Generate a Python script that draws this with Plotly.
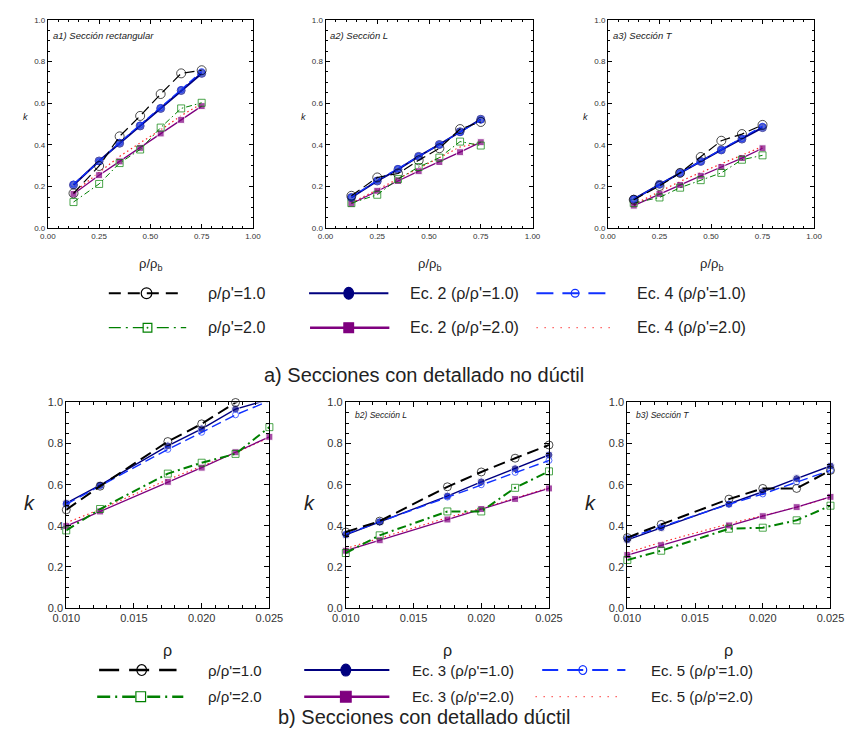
import plotly.graph_objects as go

W, H = 859, 742
FONT = "Liberation Sans, Arial, sans-serif"

# ---------------- data ----------------
x_top = [0.125, 0.25, 0.35, 0.45, 0.55, 0.65, 0.75]
x_bot = [0.010, 0.0125, 0.0175, 0.020, 0.0225, 0.025]

# a1) rectangular (non-ductile)
a1_exp_r1 = [0.168, 0.299, 0.441, 0.539, 0.644, 0.743, 0.758]
a1_exp_r2 = [0.126, 0.213, 0.313, 0.378, 0.483, 0.575, 0.602]
a1_ec2_r1 = [0.208, 0.323, 0.408, 0.491, 0.575, 0.661, 0.743]
a1_ec2_r2 = [0.165, 0.255, 0.321, 0.386, 0.455, 0.520, 0.586]
a1_ec4_r1 = [0.212, 0.320, 0.412, 0.495, 0.578, 0.665, 0.752]
a1_ec4_r2 = [0.172, 0.268, 0.345, 0.410, 0.472, 0.540, 0.598]
# a2) L section
a2_exp_r1 = [0.156, 0.244, 0.263, 0.326, 0.384, 0.476, 0.510]
a2_exp_r2 = [0.121, 0.161, 0.236, 0.294, 0.339, 0.416, 0.397]
a2_ec2_r1 = [0.148, 0.227, 0.283, 0.345, 0.402, 0.463, 0.523]
a2_ec2_r2 = [0.118, 0.180, 0.227, 0.274, 0.318, 0.365, 0.413]
a2_ec4_r1 = [0.150, 0.230, 0.286, 0.345, 0.400, 0.460, 0.520]
a2_ec4_r2 = [0.122, 0.186, 0.240, 0.290, 0.340, 0.390, 0.410]
# a3) T section
a3_exp_r1 = [0.137, 0.203, 0.266, 0.342, 0.420, 0.452, 0.496]
a3_exp_r2 = [0.121, 0.148, 0.195, 0.231, 0.266, 0.329, 0.350]
a3_ec2_r1 = [0.140, 0.211, 0.266, 0.321, 0.376, 0.428, 0.483]
a3_ec2_r2 = [0.109, 0.165, 0.208, 0.252, 0.294, 0.337, 0.384]
a3_ec4_r1 = [0.140, 0.210, 0.265, 0.320, 0.375, 0.430, 0.490]
a3_ec4_r2 = [0.115, 0.175, 0.225, 0.268, 0.310, 0.352, 0.392]
# b1) rectangular (ductile)
b1_exp_r1 = [0.478, 0.593, 0.810, 0.896, 1.000, 1.080]
b1_exp_r2 = [0.378, 0.482, 0.654, 0.707, 0.750, 0.880]
b1_ec3_r1 = [0.510, 0.598, 0.789, 0.872, 0.968, 1.015]
b1_ec3_r2 = [0.399, 0.470, 0.614, 0.683, 0.758, 0.833]
b1_ec5_r1 = [0.505, 0.595, 0.772, 0.855, 0.940, 1.008]
b1_ec5_r2 = [0.415, 0.480, 0.625, 0.690, 0.755, 0.830]
# b2) L section
b2_exp_r1 = [0.370, 0.423, 0.590, 0.662, 0.729, 0.793]
b2_exp_r2 = [0.268, 0.354, 0.470, 0.470, 0.585, 0.665]
b2_ec3_r1 = [0.356, 0.419, 0.545, 0.614, 0.678, 0.745]
b2_ec3_r2 = [0.279, 0.330, 0.431, 0.482, 0.531, 0.582]
b2_ec5_r1 = [0.360, 0.420, 0.540, 0.600, 0.660, 0.718]
b2_ec5_r2 = [0.290, 0.340, 0.440, 0.485, 0.535, 0.585]
# b3) T section
b3_exp_r1 = [0.343, 0.407, 0.530, 0.582, 0.582, 0.670]
b3_exp_r2 = [0.234, 0.279, 0.386, 0.391, 0.427, 0.498]
b3_ec3_r1 = [0.332, 0.391, 0.506, 0.566, 0.630, 0.691]
b3_ec3_r2 = [0.258, 0.306, 0.402, 0.447, 0.491, 0.541]
b3_ec5_r1 = [0.340, 0.395, 0.505, 0.555, 0.614, 0.670]
b3_ec5_r2 = [0.270, 0.320, 0.410, 0.450, 0.490, 0.540]

top_titles = ["a1) Sección rectangular", "a2) Sección L", "a3) Sección T"]
bot_titles = ["", "b2) Sección L", "b3) Sección T"]
top_ticks_x = [0.0, 0.25, 0.5, 0.75, 1.0]
bot_ticks_x = [0.010, 0.015, 0.020, 0.025]
legend_top = ["ρ/ρ'=1.0", "ρ/ρ'=2.0", "Ec. 2 (ρ/ρ'=1.0)", "Ec. 2 (ρ/ρ'=2.0)",
              "Ec. 4 (ρ/ρ'=1.0)", "Ec. 4 (ρ/ρ'=2.0)"]
legend_bot = ["ρ/ρ'=1.0", "ρ/ρ'=2.0", "Ec. 3 (ρ/ρ'=1.0)", "Ec. 3 (ρ/ρ'=2.0)",
              "Ec. 5 (ρ/ρ'=1.0)", "Ec. 5 (ρ/ρ'=2.0)"]
caption_a = "a) Secciones con detallado no dúctil"
caption_b = "b) Secciones con detallado dúctil"

top_panels = [
    dict(exp1=a1_exp_r1, exp2=a1_exp_r2, ec1=a1_ec2_r1, ec2=a1_ec2_r2, eq1=a1_ec4_r1, eq2=a1_ec4_r2),
    dict(exp1=a2_exp_r1, exp2=a2_exp_r2, ec1=a2_ec2_r1, ec2=a2_ec2_r2, eq1=a2_ec4_r1, eq2=a2_ec4_r2),
    dict(exp1=a3_exp_r1, exp2=a3_exp_r2, ec1=a3_ec2_r1, ec2=a3_ec2_r2, eq1=a3_ec4_r1, eq2=a3_ec4_r2),
]
bot_panels = [
    dict(exp1=b1_exp_r1, exp2=b1_exp_r2, ec1=b1_ec3_r1, ec2=b1_ec3_r2, eq1=b1_ec5_r1, eq2=b1_ec5_r2),
    dict(exp1=b2_exp_r1, exp2=b2_exp_r2, ec1=b2_ec3_r1, ec2=b2_ec3_r2, eq1=b2_ec5_r1, eq2=b2_ec5_r2),
    dict(exp1=b3_exp_r1, exp2=b3_exp_r2, ec1=b3_ec3_r1, ec2=b3_ec3_r2, eq1=b3_ec5_r1, eq2=b3_ec5_r2),
]

# ---------------- layout geometry (pixels) ----------------
def X(px):
    return px / W

def Y(py):
    return 1 - py / H

top_x = [(35, 247), (322, 536), (614, 827)]
top_y = (14, 226)
bot_x = [(54, 264), (343, 553), (634, 844)]
bot_y = (403, 612)

NAVY = "#00007f"
PURPLE = "#7f007f"
GREEN = "#008000"
BLUE = "#1030ff"
RED = "#ff2020"

top_style = {
    "eq2": dict(line=dict(color=RED, width=1.2, dash="1.5px,3px"), mode="lines"),
    "ec2": dict(line=dict(color=PURPLE, width=1.3), mode="lines+markers",
                marker=dict(symbol="square", size=7, color=PURPLE)),
    "exp2": dict(line=dict(color=GREEN, width=1, dash="6px,3px,1.5px,3px"), mode="lines+markers",
                 marker=dict(symbol="square-open", size=7, color=GREEN, line=dict(width=1))),
    "ec1": dict(line=dict(color=NAVY, width=2), mode="lines+markers",
                marker=dict(symbol="circle", size=8, color="#1a2fc0", line=dict(color=NAVY, width=1))),
    "eq1": dict(line=dict(color=BLUE, width=1.3, dash="8px,3px"), mode="lines+markers",
                marker=dict(symbol="circle-open", size=6, color=BLUE, line=dict(width=1))),
    "exp1": dict(line=dict(color="black", width=1.2, dash="10px,5px"), mode="lines+markers",
                 marker=dict(symbol="circle-open", size=9, color="black", line=dict(width=1))),
}
bot_style = {
    "eq2": dict(line=dict(color=RED, width=1.1, dash="1.5px,3px"), mode="lines"),
    "ec2": dict(line=dict(color=PURPLE, width=1.3), mode="lines+markers",
                marker=dict(symbol="square", size=7, color=PURPLE)),
    "exp2": dict(line=dict(color=GREEN, width=2, dash="9px,4px,2px,4px"), mode="lines+markers",
                 marker=dict(symbol="square-open", size=7, color=GREEN, line=dict(width=1))),
    "ec1": dict(line=dict(color=NAVY, width=1.4), mode="lines+markers",
                marker=dict(symbol="circle", size=8, color=NAVY)),
    "eq1": dict(line=dict(color=BLUE, width=1.4, dash="10px,5px"), mode="lines+markers",
                marker=dict(symbol="circle-open", size=6, color=BLUE, line=dict(width=1))),
    "exp1": dict(line=dict(color="black", width=2, dash="12px,6px"), mode="lines+markers",
                 marker=dict(symbol="circle-open", size=8, color="black", line=dict(width=1))),
}
order = ["eq2", "ec2", "exp2", "ec1", "eq1", "exp1"]

fig = go.Figure()
layout = dict(width=W, height=H, margin=dict(l=0, r=0, t=0, b=0),
              paper_bgcolor="white", plot_bgcolor="white", showlegend=False,
              font=dict(family=FONT, color="#222"))

def axis_common():
    return dict(showline=True, linecolor="black", linewidth=1, mirror="ticks",
                ticks="inside", tickcolor="black", showgrid=False, zeroline=False,
                fixedrange=True)

annotations = []

def text_at(text, x, y, size, xanchor="center"):
    annotations.append(dict(text=text, x=X(x), y=Y(y), xref="paper", yref="paper",
                            xanchor=xanchor, yanchor="middle", showarrow=False,
                            font=dict(size=size, color="#222")))

idx = 0
for row, (panels, xdom, ydom, xs, style) in enumerate([
        (top_panels, top_x, top_y, x_top, top_style),
        (bot_panels, bot_x, bot_y, x_bot, bot_style)]):
    for c, pdata in enumerate(panels):
        idx += 1
        xa = "x" if idx == 1 else f"x{idx}"
        ya = "y" if idx == 1 else f"y{idx}"
        for key in order:
            st = style[key]
            ys = pdata[key]
            kw = dict(x=xs, y=ys, xaxis=xa, yaxis=ya, mode=st["mode"], line=st["line"],
                      cliponaxis=False, hoverinfo="skip")
            if "marker" in st:
                m = dict(st["marker"])
                m["size"] = [m["size"] if v <= 1.0 else 0 for v in ys]
                kw["marker"] = m
            fig.add_trace(go.Scatter(**kw))
        xkey = "xaxis" if idx == 1 else f"xaxis{idx}"
        ykey = "yaxis" if idx == 1 else f"yaxis{idx}"
        ax = axis_common()
        ay = axis_common()
        ax["domain"] = [X(xdom[c][0]), X(xdom[c][1])]
        ay["domain"] = [Y(ydom[1]), Y(ydom[0])]
        ax["anchor"] = ya
        ay["anchor"] = xa
        if row == 0:
            ax.update(range=[0, 1], tickvals=top_ticks_x, tickformat=".2f", ticklen=4,
                      minor=dict(ticks="inside", ticklen=2, dtick=0.05, tickcolor="black"),
                      tickfont=dict(size=8, color="#333"))
            ay.update(range=[0, 1], dtick=0.2, tickformat=".1f", ticklen=4,
                      minor=dict(ticks="inside", ticklen=2, dtick=0.05, tickcolor="black"),
                      tickfont=dict(size=8, color="#333"))
        else:
            ax.update(range=[0.010, 0.025], tickvals=bot_ticks_x, tickformat=".3f", ticklen=5,
                      minor=dict(ticks="inside", ticklen=3, dtick=0.001, tick0=0.010, tickcolor="black"),
                      tickfont=dict(size=11, color="#333"))
            ay.update(range=[0, 1], dtick=0.2, tickformat=".1f", ticklen=5,
                      minor=dict(ticks="inside", ticklen=3, dtick=0.05, tickcolor="black"),
                      tickfont=dict(size=11, color="#333"))
        layout[xkey] = ax
        layout[ykey] = ay

        x0, x1 = xdom[c]
        cx = (x0 + x1) / 2
        if row == 0:
            text_at("ρ/ρ<sub>b</sub>", cx, 263, 13)
            text_at("<i>k</i>", x0 - 23, 113, 9)
            text_at("<i>" + top_titles[c] + "</i>", x0 + 3, 30, 9.5, "left")
        else:
            text_at("ρ", cx, 655, 16)
            text_at("<i>k</i>", x0 - 38, 505, 20)
            if bot_titles[c]:
                text_at("<i>" + bot_titles[c] + "</i>", x0 + 7, 416, 8.5, "left")

# ---------------- hand-made legends ----------------
shapes = []

def seg(x0, x1, y, color, width, dash="solid"):
    shapes.append(dict(type="line", xref="paper", yref="paper", x0=X(x0), x1=X(x1), y0=Y(y), y1=Y(y),
                       line=dict(color=color, width=width, dash=dash)))

def circ(cx, cy, rx, ry, color, filled, width=1.2):
    shapes.append(dict(type="circle", xref="paper", yref="paper", x0=X(cx - rx), x1=X(cx + rx),
                       y0=Y(cy + ry), y1=Y(cy - ry), line=dict(color=color, width=width),
                       fillcolor=color if filled else "rgba(0,0,0,0)"))

def sq(cx, cy, h, color, filled, width=1.2):
    shapes.append(dict(type="rect", xref="paper", yref="paper", x0=X(cx - h), x1=X(cx + h),
                       y0=Y(cy + h), y1=Y(cy - h), line=dict(color=color, width=width),
                       fillcolor=color if filled else "white"))

# top legend
r1, r2 = 292, 327
seg(98, 176, r1, "black", 2, "12px,7px"); circ(137, r1, 5.5, 5.5, "black", False)
seg(98, 178, r2, GREEN, 1.3, "12px,5px,2px,5px"); sq(138, r2, 4.5, GREEN, False)
sq(138, r2, 0.6, GREEN, True, 0.5)
seg(305, 387, r1, NAVY, 2); circ(346, r1, 5, 6, NAVY, True)
seg(306, 388, r2, PURPLE, 2.5); sq(346, r2, 5, PURPLE, True)
seg(540, 613, r1, BLUE, 2, "17px,9px"); circ(580, r1, 4, 4, BLUE, False)
seg(540, 622, r2, "#ff6060", 1.2, "1.5px,6.5px")
text_at(legend_top[0], 198, r1, 16, "left"); text_at(legend_top[1], 198, r2, 16, "left")
text_at(legend_top[2], 407, r1, 16, "left"); text_at(legend_top[3], 407, r2, 16, "left")
text_at(legend_top[4], 642, r1, 16, "left"); text_at(legend_top[5], 642, r2, 16, "left")

# bottom legend
q1, q2 = 675, 702
seg(88, 168, q1, "black", 2.5, "20px,10px"); circ(132, q1, 5, 5.5, "black", False)
seg(86, 175, q2, GREEN, 2.5, "13px,5px,2px,5px"); sq(131, q2, 5, GREEN, False)
seg(300, 388, q1, NAVY, 2); circ(343, q1, 5, 6, NAVY, True)
seg(300, 388, q2, PURPLE, 2.5); sq(343, q2, 5.5, PURPLE, True)
seg(546, 632, q1, BLUE, 2, "16px,9px"); circ(588, q1, 4, 4.5, BLUE, False)
seg(539, 629, q2, "#ff6060", 1.2, "1.5px,6.5px")
text_at(legend_bot[0], 198, q1, 15, "left"); text_at(legend_bot[1], 198, q2, 15, "left")
text_at(legend_bot[2], 409, q1, 15, "left"); text_at(legend_bot[3], 409, q2, 15, "left")
text_at(legend_bot[4], 656, q1, 15, "left"); text_at(legend_bot[5], 656, q2, 15, "left")

# captions
text_at(caption_a, 424, 375, 20)
text_at(caption_b, 424, 723, 20)

layout["annotations"] = annotations
layout["shapes"] = shapes
fig.update_layout(**layout)
fig.write_html("out.html")
